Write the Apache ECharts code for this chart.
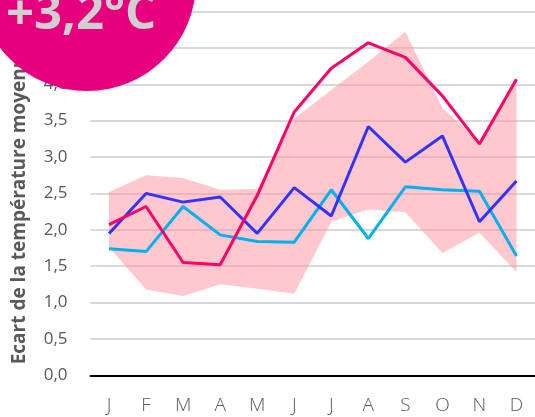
<!DOCTYPE html>
<html>
<head>
<meta charset="utf-8">
<script src="https://cdn.jsdelivr.net/npm/echarts@6/dist/echarts.min.js"></script>
<style>
  html, body { margin: 0; padding: 0; background: #fff; }
  #chart { width: 535px; height: 417px; }
</style>
</head>
<body>
<div id="chart"></div>
<script>
var months = ['J', 'F', 'M', 'A', 'M', 'J', 'J', 'A', 'S', 'O', 'N', 'D'];
// three scenario lines
var pinkLine  = [2.07, 2.32, 1.55, 1.52, 2.47, 3.62, 4.22, 4.57, 4.37, 3.84, 3.18, 4.07];
var blueLine  = [1.95, 2.50, 2.38, 2.45, 1.95, 2.58, 2.19, 3.42, 2.93, 3.29, 2.11, 2.67];
var cyanLine  = [1.74, 1.70, 2.32, 1.93, 1.84, 1.83, 2.55, 1.88, 2.59, 2.55, 2.53, 1.64];
// pink envelope
var bandLow   = [1.76, 1.18, 1.09, 1.25, 1.19, 1.12, 2.11, 2.28, 2.24, 1.68, 1.96, 1.42];
var bandHigh  = [2.52, 2.75, 2.71, 2.55, 2.56, 3.53, 3.92, 4.31, 4.72, 3.67, 3.22, 4.08];
var bigLabel = '+3,2°C';

var bandDiff = bandHigh.map(function (v, i) { return +(v - bandLow[i]).toFixed(2); });

var chart = echarts.init(document.getElementById('chart'));
var font = 'Open Sans';

chart.setOption({
  animation: false,
  grid: { left: 90.5, right: 0, top: 11.5, bottom: 41.7 },
  xAxis: {
    type: 'category',
    data: months,
    boundaryGap: true,
    axisLine: { lineStyle: { color: '#000', width: 2 } },
    axisTick: { show: false },
    axisLabel: { fontFamily: font, fontWeight: 300, fontSize: 19, color: '#595959', margin: 21 }
  },
  yAxis: {
    type: 'value',
    min: 0,
    max: 5,
    interval: 0.5,
    name: 'Ecart de la température moyenne (°C)',
    nameLocation: 'middle',
    nameGap: 61,
    nameTextStyle: {
      fontFamily: font, fontWeight: 'bold', fontSize: 19, color: '#595959',
      padding: [0, 0, 0, 16]
    },
    axisLine: { show: false },
    axisTick: { show: false },
    axisLabel: {
      fontFamily: font, fontSize: 17, color: '#595959', margin: 23,
      formatter: function (v) { return v.toFixed(1).replace('.', ','); }
    },
    splitLine: { lineStyle: { color: '#D9D9D9', width: 2 } }
  },
  series: [
    {
      type: 'line', data: bandLow, stack: 'band', symbol: 'none',
      lineStyle: { opacity: 0 }, silent: true
    },
    {
      type: 'line', data: bandDiff, stack: 'band', symbol: 'none',
      lineStyle: { opacity: 0 },
      areaStyle: { color: 'rgb(255,145,157)', opacity: 0.5 }, silent: true
    },
    {
      type: 'line', data: cyanLine, symbol: 'none',
      lineStyle: { color: '#00B0F0', width: 3 }
    },
    {
      type: 'line', data: blueLine, symbol: 'none',
      lineStyle: { color: '#3333FF', width: 3 }
    },
    {
      type: 'line', data: pinkLine, symbol: 'none',
      lineStyle: { color: '#FF0066', width: 3 }
    }
  ],
  graphic: [
    {
      type: 'circle', z: 100,
      shape: { cx: 87, cy: -18, r: 109 },
      style: { fill: '#E6007E' }
    },
    {
      type: 'text', z: 101,
      x: 6, y: 15,
      style: {
        text: bigLabel,
        fill: '#D0D0D0',
        font: 'bold 49px "Open Sans"',
        verticalAlign: 'middle'
      }
    }
  ]
});
</script>
</body>
</html>
